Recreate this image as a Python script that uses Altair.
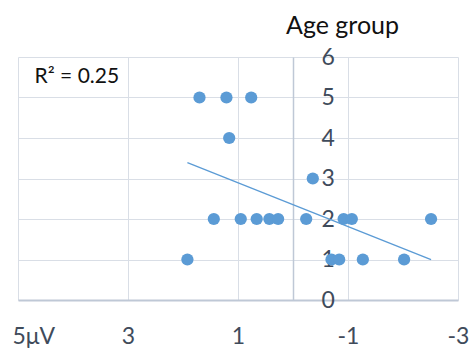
import altair as alt
import pandas as pd

# Data
amplitude = [1.70, 1.21, 0.76,
             1.16,
             -0.36,
             1.44, 0.95, 0.66, 0.43, 0.27, -0.24, -0.92, -1.07, -2.51,
             1.92, -0.70, -0.84, -1.27, -2.02]
age_group = [5, 5, 5,
             4,
             3,
             2, 2, 2, 2, 2, 2, 2, 2, 2,
             1, 1, 1, 1, 1]
x_ticks = [5, 3, 1, -1, -3]
y_ticks = [0, 1, 2, 3, 4, 5, 6]
r2_label = ["R² = 0.25"]
r2_pos_x = [3.93]
r2_pos_y = [5.5]

df = pd.DataFrame({"amp": amplitude, "age": age_group})
ann = pd.DataFrame({"amp": r2_pos_x, "age": r2_pos_y, "txt": r2_label})

FONT = "Lato"
LABEL_COLOR = "#3F4B5B"
BLUE = "#5B9BD5"

xscale = alt.Scale(domain=[-3, 5], reverse=True, nice=False, zero=False)
yscale = alt.Scale(domain=[0, 6], nice=False)

xaxis = alt.Axis(values=x_ticks, title=None, ticks=False, grid=True,
                 gridColor="#D9DEE6", gridWidth=1,
                 domainColor="#BFC8D6", domainWidth=2,
                 labelFont=FONT, labelFontSize=23, labelColor=LABEL_COLOR,
                 labelPadding=25,
                 labelExpr="datum.value == 5 ? '5μV' : replace(datum.label, '−', '-')",
                 labelAlign=alt.expr("datum.value == 5 ? 'left' : 'center'"),
                 labelOffset=alt.expr("datum.value == 5 ? -6 : 0"))

yaxis = alt.Axis(values=y_ticks, orient="right", offset=-165, title="Age group",
                 ticks=False, grid=True, gridColor="#D9DEE6", gridWidth=1,
                 domainColor="#BFC8D6", domainWidth=1.5,
                 labelFont=FONT, labelFontSize=23, labelColor=LABEL_COLOR,
                 labelPadding=28, labelAlign="left", labelBaseline="middle",
                 titleFont=FONT, titleFontSize=25, titleFontWeight="normal",
                 titleColor="#111111", titleAngle=0, titleAlign="center",
                 titleBaseline="middle", titleX=49, titleY=-32)

base = alt.Chart(df)

points = base.mark_circle(size=150, color=BLUE, opacity=1).encode(
    x=alt.X("amp:Q", scale=xscale, axis=xaxis),
    y=alt.Y("age:Q", scale=yscale, axis=yaxis),
)

trend = base.transform_regression("amp", "age").mark_line(
    color=BLUE, strokeWidth=1.3).encode(
    x=alt.X("amp:Q", scale=xscale),
    y=alt.Y("age:Q", scale=yscale),
)

label = alt.Chart(ann).mark_text(font=FONT, fontSize=21, color="#111111").encode(
    x=alt.X("amp:Q", scale=xscale),
    y=alt.Y("age:Q", scale=yscale),
    text="txt:N",
)

chart = alt.layer(points, trend, label).properties(
    width=440, height=243,
    autosize=alt.AutoSizeParams(type="none"),
    padding={"left": 18, "top": 57, "right": 12, "bottom": 49},
).configure_view(stroke=None)

chart.save("out.html", embed_options={"renderer": "svg", "actions": False})
